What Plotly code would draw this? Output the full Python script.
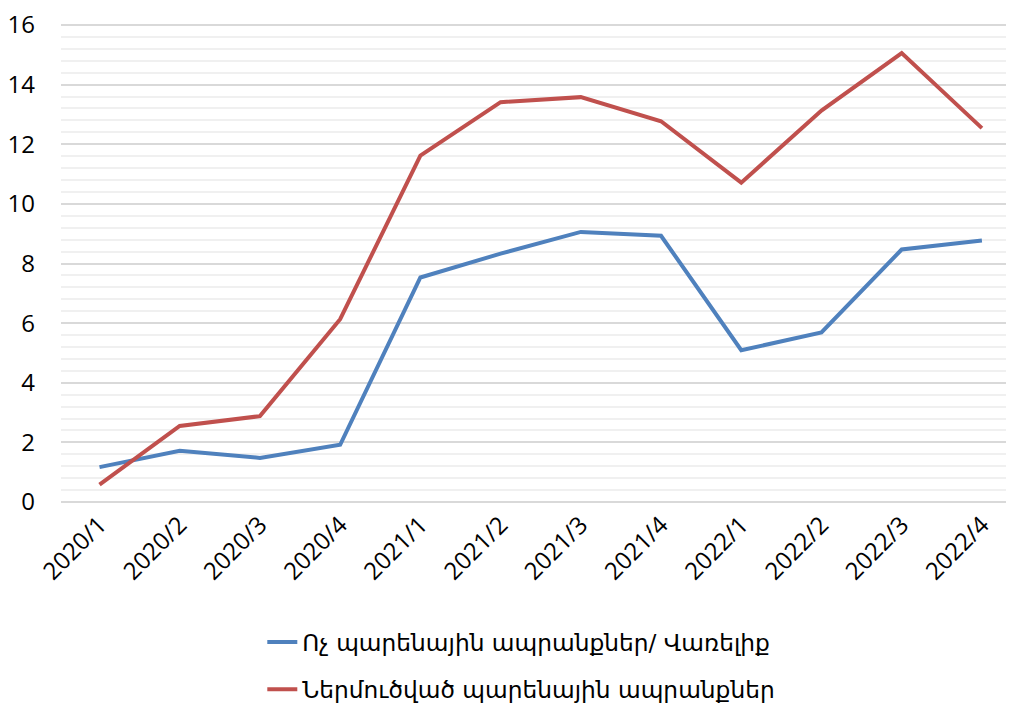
import plotly.graph_objects as go

# quarters on the category axis
quarters = ["2020/1", "2020/2", "2020/3", "2020/4",
            "2021/1", "2021/2", "2021/3", "2021/4",
            "2022/1", "2022/2", "2022/3", "2022/4"]

# series values
non_food = [1.17, 1.72, 1.48, 1.92, 7.53, 8.33, 9.06, 8.93, 5.09, 5.69, 8.47, 8.77]
imported_food = [0.58, 2.55, 2.88, 6.13, 11.62, 13.41, 13.58, 12.77, 10.71, 13.13, 15.06, 12.54]

series_names = ["Ոչ պարենային ապրանքներ/ Վառելիք",
                "Ներմուծված պարենային ապրանքներ"]

font_main = "Open Sans, DejaVu Sans, sans-serif"

fig = go.Figure()
fig.add_trace(go.Scatter(
    x=quarters, y=non_food, name=series_names[0], mode="lines",
    line=dict(color="#4F81BD", width=4), legendgroup="a",
))
fig.add_trace(go.Scatter(
    x=quarters, y=imported_food, name=series_names[1], mode="lines",
    line=dict(color="#C0504D", width=4), legendgroup="b",
))

# page body keeps its 8px default margin, so the figure is sized to fit
fig.update_layout(
    width=1006, height=704,
    margin=dict(l=53, r=0, t=13.5, b=202),
    plot_bgcolor="white", paper_bgcolor="white",
    font=dict(family=font_main, size=24, color="black"),
    showlegend=True,
    legend=dict(
        orientation="v", x=0.483, xanchor="center", y=-0.239, yanchor="top",
        font=dict(family="DejaVu Sans, sans-serif", size=23.3),
        tracegroupgap=14, traceorder="grouped",
    ),
    xaxis=dict(
        type="category", range=[-0.48, 11.4], automargin=False,
        showgrid=False, showline=False, zeroline=False,
        tickangle=-45, ticks="", tickfont=dict(size=24),
        ticklabeloverflow="allow",
    ),
    yaxis=dict(
        range=[-0.1, 16.1], dtick=2, tick0=0, automargin=False,
        showgrid=True, gridcolor="#d9d9d9", gridwidth=1.5,
        zeroline=False, showline=False, ticks="",
        tickfont=dict(size=24), ticklabelstandoff=25,
        ticklabeloverflow="allow",
        minor=dict(dtick=0.4, showgrid=True, gridcolor="#f0f0f0", gridwidth=1.5),
    ),
)

fig.write_html("out.html")
